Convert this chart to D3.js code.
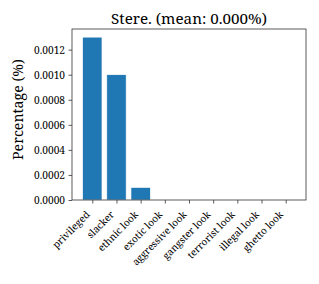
<!DOCTYPE html>
<html>
<head>
<meta charset="utf-8">
<script src="https://cdn.jsdelivr.net/npm/d3@7"></script>
<style>
  body { margin: 0; background: #fff; }
  text { font-family: "Noto Serif", serif; fill: #000; }
</style>
</head>
<body>
<svg id="chart" width="319" height="284"></svg>
<script>
// chart data
const categories = ['privileged', 'slacker', 'ethnic look', 'exotic look', 'aggressive look',
  'gangster look', 'terrorist look', 'illegal look', 'ghetto look'];
const values = [0.0013, 0.0010, 0.0001, 0, 0, 0, 0, 0, 0];
const yTicks = [0, 0.0002, 0.0004, 0.0006, 0.0008, 0.0010, 0.0012];
const title = 'Stere. (mean: 0.000%)';

const svg = d3.select('#chart');
const margin = { left: 72, right: 13, top: 29, bottom: 84 };
const w = 319 - margin.left - margin.right;
const h = 284 - margin.top - margin.bottom;

// size a font so that a sample text takes the given width
function fitSize(sample, width) {
  const t = svg.append('text').attr('font-size', '10px').text(sample);
  const len = t.node().getComputedTextLength();
  t.remove();
  return 10 * width / len;
}
const tickSize = fitSize('0.0012', 31);
const titleSize = fitSize(title, 156);
const labelSize = fitSize('Percentage (%)', 101);
const catSize = fitSize('aggressive look', 72);

const g = svg.append('g').attr('transform', `translate(${margin.left},${margin.top})`);

// matplotlib style: 5% margins around the bars in x, top padding 5% in y
const n = categories.length;
const span = (n - 1) + 0.8;
const x = d3.scaleLinear()
  .domain([-0.4 - span * 0.05, n - 1 + 0.4 + span * 0.05])
  .range([0, w]);
const y = d3.scaleLinear()
  .domain([0, d3.max(values) * 1.05])
  .range([h, 0]);

// bars
g.selectAll('rect.bar')
  .data(values)
  .enter().append('rect')
  .attr('class', 'bar')
  .attr('x', (d, i) => x(i - 0.4))
  .attr('width', x(0.8) - x(0))
  .attr('y', d => y(d))
  .attr('height', d => y(0) - y(d))
  .attr('fill', '#1f77b4')
  .attr('stroke', '#ffffff')
  .attr('stroke-width', 0.6);

// y axis
const yAxis = g.append('g')
  .call(d3.axisLeft(y).tickValues(yTicks).tickFormat(d3.format('.4f')).tickSize(3.5).tickPadding(3.5));
yAxis.attr('font-family', null);
yAxis.selectAll('text').attr('font-size', tickSize + 'px').attr('dy', '0.35em');

// x axis
const xAxis = g.append('g')
  .attr('transform', `translate(0,${h})`)
  .call(d3.axisBottom(x).tickValues(d3.range(n)).tickFormat(i => categories[i]).tickSize(3.5));
xAxis.attr('font-family', null);
xAxis.selectAll('text')
  .attr('font-size', catSize + 'px')
  .attr('text-anchor', 'end')
  .attr('dy', '0.32em')
  .attr('y', 0)
  .attr('transform', 'translate(-4.5,13) rotate(-45)');

[yAxis, xAxis].forEach(a => {
  a.select('.domain').remove();
  a.selectAll('line').attr('stroke', '#333').attr('stroke-width', 0.8);
});

// frame
g.append('rect')
  .attr('width', w).attr('height', h)
  .attr('fill', 'none')
  .attr('stroke', '#333')
  .attr('stroke-width', 0.8);

// y label
svg.append('text')
  .attr('transform', `translate(18,${margin.top + h / 2 - 5}) rotate(-90)`)
  .attr('text-anchor', 'middle')
  .attr('dy', '0.35em')
  .attr('font-size', labelSize + 'px')
  .text('Percentage (%)');

// title
svg.append('text')
  .attr('x', margin.left + w / 2)
  .attr('y', 24)
  .attr('text-anchor', 'middle')
  .attr('font-size', titleSize + 'px')
  .text(title);
</script>
</body>
</html>
